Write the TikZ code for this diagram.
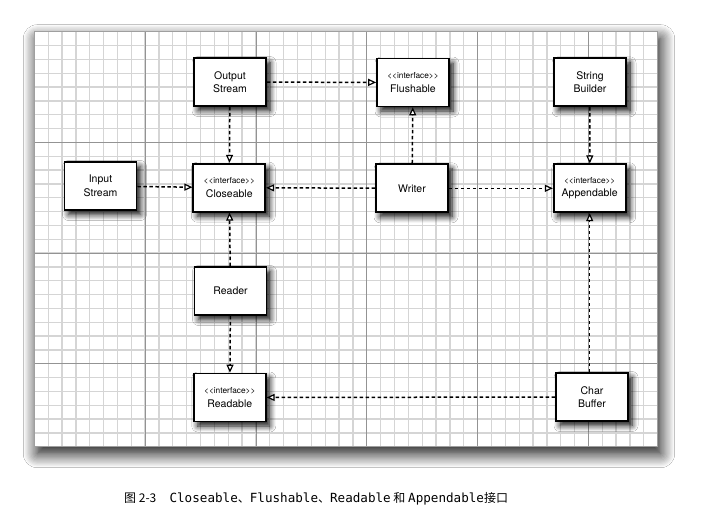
\documentclass[tikz,border=0pt]{standalone}
\usepackage{fontspec}
\setmainfont{TeX Gyre Heros}
\newfontfamily\cjkfont{Noto Sans CJK SC}
\newfontfamily\codefont{DejaVu Sans Mono}
\usetikzlibrary{arrows.meta,shadows.blur}
\newcommand{\iface}{{\fontsize{8.3}{10}\selectfont <{}<interface>{}>}}
\newcommand{\code}[1]{{\codefont\fontsize{12.6}{14}\selectfont #1}}

\begin{document}
\begin{tikzpicture}[x=1pt,y=-1pt,
  sheet/.style={fill=white,
                blur shadow={shadow xshift=3pt,shadow yshift=-7pt,
                             shadow blur radius=14pt,shadow blur steps=12,
                             shadow opacity=95}},
  minorline/.style={draw=gray!33,line width=1.3pt},
  majorline/.style={draw=gray!85,line width=0.7pt},
  cls/.style={rectangle,draw=black,line width=1.7pt,fill=white,
              minimum width=72pt,minimum height=48pt,
              align=center,font=\fontsize{10.5}{13.5}\selectfont,
              blur shadow={shadow xshift=4pt,shadow yshift=-4.5pt,
                           shadow blur radius=6pt,shadow blur steps=8,
                           shadow opacity=95}},
  dep/.style={-{Triangle[fill=white,length=8pt,width=7pt,line width=1.2pt]},
              line width=1.5pt,dash pattern=on 3.5pt off 2.5pt}]
\useasboundingbox[fill=white] (0,0) rectangle (701,525);
%% ── Grid paper ───────────────────────────────────────────────────────────
\path[sheet] (34.3,31.7) rectangle (657.7,446.7);
\foreach \i in {1,...,44}
  \draw[minorline] ({34.3+13.853*\i},31.7) -- ++(0,415);
\foreach \j in {1,...,29}
  \draw[minorline] (34.3,{31.7+13.833*\j}) -- ++(623.4,0);
\foreach \i in {1,...,5}
  \draw[majorline] ({34.3+110.82*\i},31.7) -- ++(0,415);
\foreach \j in {1,2,3}
  \draw[majorline] (34.3,{31.7+110.67*\j}) -- ++(623.4,0);
\draw[gray!75,line width=1pt] (34.3,31.7) rectangle (657.7,446.7);
%% ── Classes and interfaces ───────────────────────────────────────────────
\node[cls](outs) at (230,82)    {Output\\Stream};
\node[cls](flush) at (413,82.5) {\iface\\Flushable};
\node[cls](sbuild) at (590,82.3) {String\\Builder};
\node[cls](ins) at (100.5,186)  {Input\\Stream};
\node[cls](close) at (229.3,187.7) {\iface\\Closeable};
\node[cls](writer) at (412,188.3) {Writer};
\node[cls](append) at (589.7,188.3) {\iface\\Appendable};
\node[cls](reader) at (230.5,291) {Reader};
\node[cls](read) at (229.8,397.5) {\iface\\Readable};
\node[cls](cbuf) at (592,397)   {Char\\Buffer};
%% ── Implements (dashed, open head) ───────────────────────────────────────
\draw[dep] (outs) -- (close);
\draw[dep] (outs) -- (flush);
\draw[dep] (ins) -- (close);
\draw[dep] (writer) -- (close);
\draw[dep] (writer) -- (flush);
\draw[dep] (writer) -- (append);
\draw[dep] (sbuild) -- (append);
\draw[dep] (reader) -- (close);
\draw[dep] (reader) -- (read);
\draw[dep] (cbuf.north west -| append.south) -- (append.south);
\draw[dep] (cbuf) -- (read);
%% ── Caption ──────────────────────────────────────────────────────────────
\node[anchor=base west,inner sep=0pt,font=\cjkfont\fontsize{12}{14}\selectfont](cap)
  at (124,502)
  {图 2-3\hspace{1.1em}\code{Closeable}、\code{Flushable}、\code{Readable} 和 \code{Appendable}接口};
\end{tikzpicture}
\end{document}
